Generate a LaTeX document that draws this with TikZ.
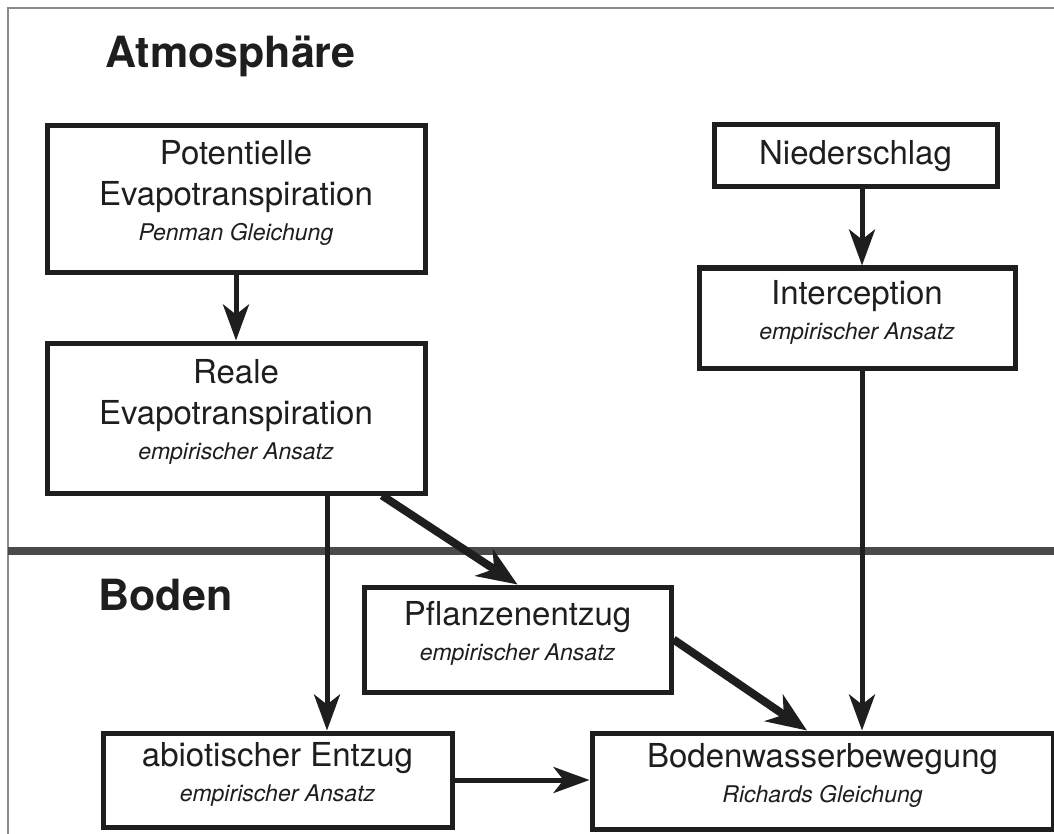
\documentclass[tikz,border=0pt]{standalone}
\usepackage{fontspec}
\setmainfont{TeX Gyre Heros}
\usetikzlibrary{arrows.meta,calc,positioning}
\definecolor{ink}{HTML}{1E1E1E}
\definecolor{rulegray}{HTML}{4A4A4A}
\definecolor{framegray}{HTML}{8A8A8A}
\newcommand\sublabel[1]{\\[-6pt]{\fontsize{23}{28}\selectfont\itshape #1}\rule[-17pt]{0pt}{17pt}}
\tikzset{every node/.style={font=\fontsize{33}{41}\selectfont,text=ink},
  box/.style={draw=ink,line width=5pt,align=center,inner sep=0pt},
  flow/.style={draw=ink,line width=5pt,-{Stealth[length=36pt,width=26pt,inset=10pt]}},
  bigflow/.style={draw=ink,line width=8pt,-{Stealth[length=40pt,width=32pt,inset=12pt]}},
  region/.style={font=\fontsize{43}{50}\selectfont\bfseries,anchor=base west}}

\begin{document}
\begin{tikzpicture}[x=1pt,y=-1pt]
\useasboundingbox (0,0) rectangle (1054,834);
\draw[framegray,line width=1.5pt] (8,834)--(8,8)--(1054,8);
\draw[rulegray,line width=8pt] (8,551)--(1054,551);
% regions
\node[region] (atm) at (102,68) {Atmosphäre};
\node[region] (bod) at (95,610) {Boden};
% processes
\node[box,minimum width=378pt,minimum height=146pt] (pot) at (236,199) {Potentielle\\Evapotranspiration\sublabel{Penman Gleichung}};
\node[box,minimum width=378pt,minimum height=150pt] (real) at (236,418) {Reale\\Evapotranspiration\sublabel{empirischer Ansatz}};
\node[box,minimum width=283pt,minimum height=62pt] (nied) at (855.5,156) {Niederschlag};
\node[box,minimum width=316pt,minimum height=100pt] (inter) at (857,318) {Interception\sublabel{empirischer Ansatz}};
\node[box,minimum width=307pt,minimum height=105pt] (pfl) at (517.5,639.5) {Pflanzenentzug\sublabel{empirischer Ansatz}};
\node[box,minimum width=349pt,minimum height=94pt] (abio) at (277.5,780) {abiotischer Entzug\sublabel{empirischer Ansatz}};
\node[box,minimum width=461pt,minimum height=96pt] (wasser) at (822.5,781) {Bodenwasserbewegung\sublabel{Richards Gleichung}};
% connectors
\coordinate (colA) at (327,0);\coordinate (colB) at (862,0);
\draw[flow] (pot.south) -- (real.north);
\draw[flow] (real.south -| colA) -- (abio.north -| colA);
\draw[bigflow] ([xshift=146pt]real.south) -- (pfl.north);
\draw[bigflow] (pfl.east) -- ([xshift=-15.5pt]wasser.north);
\draw[flow] (nied.south -| colB) -- (inter.north -| colB);
\draw[flow] (inter.south -| colB) -- (wasser.north -| colB);
\draw[flow] (abio.east) -- (abio.east -| wasser.west);
\end{tikzpicture}
\end{document}
